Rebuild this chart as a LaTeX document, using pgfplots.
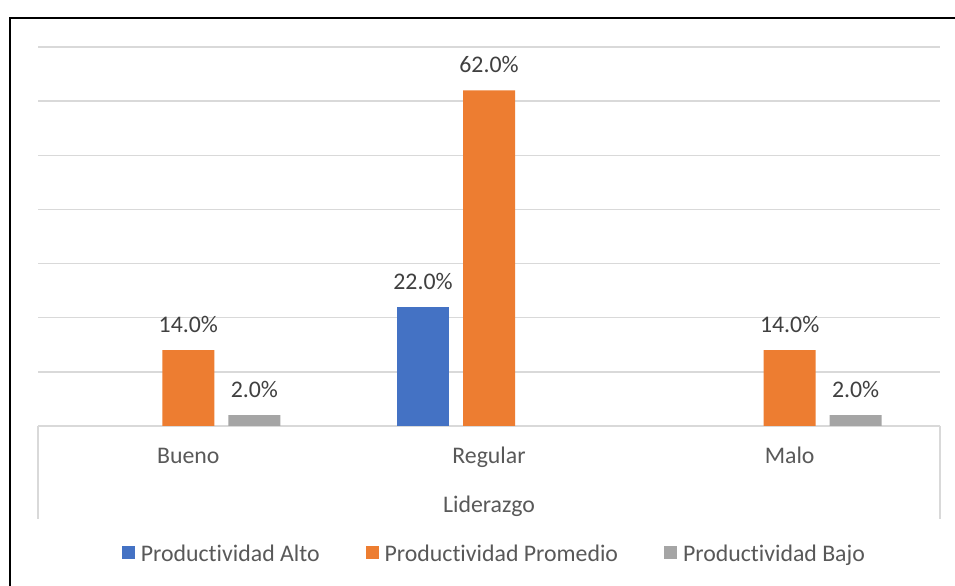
\documentclass[border=0pt]{standalone}
\usepackage{pgfplots}
\pgfplotsset{compat=1.18}
\usepackage{fontspec}
\setmainfont{Carlito}[Ligatures={NoCommon,NoRare}]
\definecolor{cblue}{HTML}{4472C4}
\definecolor{corange}{HTML}{ED7D31}
\definecolor{cgray}{HTML}{A5A5A5}
\definecolor{gridgray}{HTML}{D9D9D9}
\definecolor{labgray}{HTML}{595959}
\definecolor{datgray}{HTML}{404040}
\newcommand{\chfont}{\fontsize{23.8bp}{28bp}\selectfont}
\begin{document}
\begin{tikzpicture}
\useasboundingbox (0bp,0bp) rectangle (955bp,586bp);
\fill[white] (0bp,0bp) rectangle (955bp,586bp);
\draw[black, line width=2bp] (10bp,0bp) -- (10bp,568bp) -- (955bp,568bp);
\begin{axis}[
  name=ax,
  at={(38bp,160bp)}, anchor=south west, scale only axis,
  width=902bp, height=379bp,
  xmin=-0.5, xmax=2.5, ymin=0, ymax=70,
  axis line style={draw=none},
  ytick={0,10,...,70}, yticklabels={},
  ymajorgrids, grid style={color=gridgray, line width=1.3bp},
  major tick length=0pt,
  xtick={0,1,2}, xticklabels={Bueno,Regular,Malo},
  xticklabel style={anchor=base, yshift=-38bp, font=\chfont, text=labgray},
  xlabel={Liderazgo},
  xlabel style={at={(axis description cs:0.5,-0.227)}, anchor=base, font=\chfont, text=labgray},
  clip=false,
  point meta=y,
  nodes near coords={\pgfmathprintnumber[fixed,fixed zerofill,precision=1,assume math mode=true]{\pgfplotspointmeta}\%},
  every node near coord/.append style={anchor=base, yshift=17.5bp, font=\chfont, text=datgray},
  legend columns=3,
  legend style={at={(0.506,-0.3375)}, anchor=center, draw=none, fill=none, font=\chfont, text=labgray,
    /tikz/every odd column/.append style={column sep=4bp},
    /tikz/every even column/.append style={column sep=44bp}},
  legend image code/.code={\fill[#1] (0bp,-5bp) rectangle (13bp,8bp);},
]
\addplot[ybar, bar width=52bp, bar shift=-66bp, fill=cblue, draw=none,
  every node near coord/.append style={xshift=-66bp}] coordinates {(1,22)};
\addplot[ybar, bar width=52bp, bar shift=0bp, fill=corange, draw=none] coordinates {(0,14) (1,62) (2,14)};
\addplot[ybar, bar width=52bp, bar shift=66bp, fill=cgray, draw=none,
  every node near coord/.append style={xshift=66bp}] coordinates {(0,2) (2,2)};
\legend{Productividad Alto, Productividad Promedio, Productividad Bajo}
\end{axis}
\draw[gridgray, line width=1.3bp] (ax.south west) -- ++(0bp,-93bp);
\draw[gridgray, line width=1.3bp] (ax.south east) -- ++(0bp,-93bp);
\end{tikzpicture}
\end{document}
